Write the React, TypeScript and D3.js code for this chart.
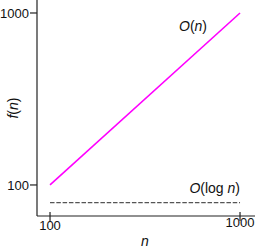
import React from "react";
import * as d3 from "d3";

const nValues = [100, 1000];
const linearValues = [100, 1000];
const logValues = [79, 79];
const xTicks = [100, 1000];
const yTicks = [100, 1000];

const W = 255;
const H = 248;
const FONT = "'Liberation Sans', Arial, Helvetica, sans-serif";

export default function App() {
  const x = d3.scaleLog().domain([85.4, 1199]).range([37, 255]);
  const y = d3.scaleLog().domain([66, 1190]).range([216, 0]);
  const line = d3
    .line<[number, number]>()
    .x((d) => x(d[0]))
    .y((d) => y(d[1]));
  const linData = nValues.map((n, i) => [n, linearValues[i]] as [number, number]);
  const logData = nValues.map((n, i) => [n, logValues[i]] as [number, number]);

  return (
    <svg
      width={W}
      height={H}
      style={{ position: "absolute", left: 0, top: 0, background: "#fff" }}
      fontFamily={FONT}
    >
      <rect width={W} height={H} fill="#fff" />
      {/* axes */}
      <line x1={37} x2={37} y1={0} y2={216} stroke="#222" strokeWidth={1.2} />
      <line x1={37} x2={255} y1={216} y2={216} stroke="#222" strokeWidth={1.2} />
      {yTicks.map((t) => (
        <g key={"y" + t}>
          <line x1={30} x2={37} y1={y(t)} y2={y(t)} stroke="#222" strokeWidth={1.2} />
          <text x={29} y={y(t)} dy="0.36em" textAnchor="end" fontSize={13} fill="#111">
            {t}
          </text>
        </g>
      ))}
      {xTicks.map((t, i) => (
        <g key={"x" + t}>
          <line x1={x(t)} x2={x(t)} y1={212} y2={221} stroke="#222" strokeWidth={1.2} />
          <text x={x(t)} y={i === 0 ? 230 : 226.5} textAnchor="middle" fontSize={13} fill="#111">
            {t}
          </text>
        </g>
      ))}
      {/* series */}
      <path d={line(linData) || ""} fill="none" stroke="#ff00ff" strokeWidth={1.6} />
      <path
        d={line(logData) || ""}
        fill="none"
        stroke="#555"
        strokeWidth={1.2}
        strokeDasharray="4.5,1.8"
      />
      {/* annotations */}
      <text x={179} y={31} fontSize={14} fill="#111">
        <tspan fontStyle="italic">O</tspan>(<tspan fontStyle="italic">n</tspan>)
      </text>
      <text x={240} y={193} textAnchor="end" fontSize={14} fill="#111">
        <tspan fontStyle="italic">O</tspan>(log <tspan fontStyle="italic">n</tspan>)
      </text>
      <text
        transform={`translate(18,108) rotate(-90)`}
        textAnchor="middle"
        fontSize={14}
        fill="#111"
      >
        <tspan fontStyle="italic">f</tspan>(<tspan fontStyle="italic">n</tspan>)
      </text>
      <text x={145} y={246} textAnchor="middle" fontSize={14} fontStyle="italic" fill="#111">
        n
      </text>
    </svg>
  );
}
